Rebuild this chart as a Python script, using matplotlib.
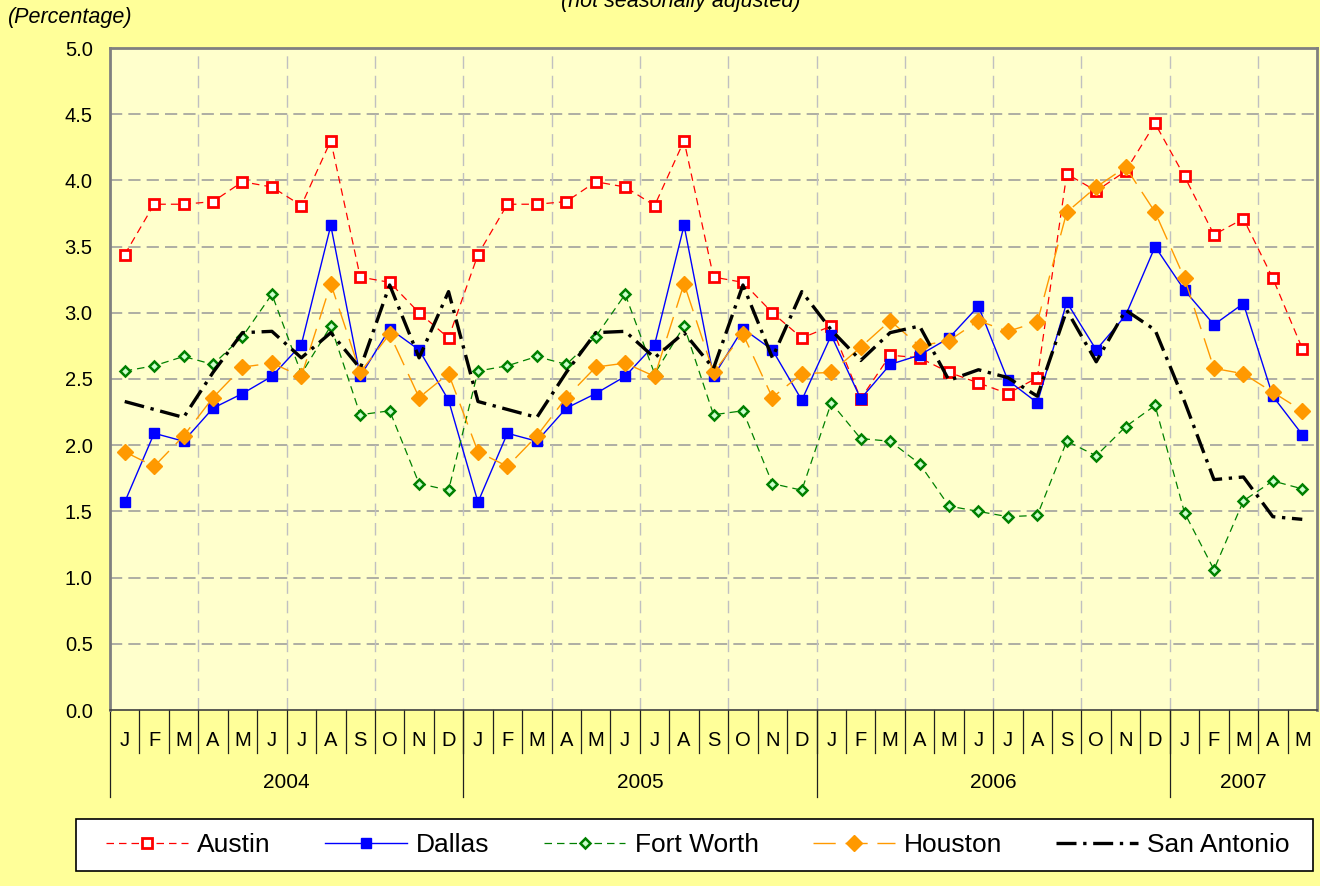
import numpy as np
import matplotlib
matplotlib.use("Agg")
import matplotlib.pyplot as plt
import matplotlib.transforms as mtransforms
from matplotlib.patches import Rectangle

plt.rcParams['font.family'] = ['Liberation Sans', 'DejaVu Sans']

# Data (monthly, Jan 2004 - May 2007), percentage
month_labels = ['J', 'F', 'M', 'A', 'M', 'J', 'J', 'A', 'S', 'O', 'N', 'D'] * 3 + ['J', 'F', 'M', 'A', 'M']
year_labels = ['2004', '2005', '2006', '2007']
months_per_year = [12, 12, 12, 5]

austin = [3.44, 3.82, 3.82, 3.84, 3.99, 3.95, 3.81, 4.30, 3.27, 3.23, 3.00, 2.81,
          3.44, 3.82, 3.82, 3.84, 3.99, 3.95, 3.81, 4.30, 3.27, 3.23, 3.00, 2.81,
          2.90, 2.35, 2.68, 2.66, 2.55, 2.47, 2.39, 2.51, 4.05, 3.92, 4.07, 4.43,
          4.03, 3.59, 3.71, 3.26, 2.73]
dallas = [1.57, 2.09, 2.03, 2.28, 2.39, 2.52, 2.76, 3.66, 2.52, 2.88, 2.72, 2.34,
          1.57, 2.09, 2.03, 2.28, 2.39, 2.52, 2.76, 3.66, 2.52, 2.88, 2.72, 2.34,
          2.83, 2.35, 2.61, 2.68, 2.81, 3.05, 2.49, 2.32, 3.08, 2.72, 2.98, 3.50,
          3.17, 2.91, 3.07, 2.37, 2.08]
fort_worth = [2.56, 2.60, 2.67, 2.61, 2.82, 3.14, 2.54, 2.90, 2.23, 2.26, 1.71, 1.66,
              2.56, 2.60, 2.67, 2.61, 2.82, 3.14, 2.54, 2.90, 2.23, 2.26, 1.71, 1.66,
              2.32, 2.05, 2.03, 1.86, 1.54, 1.50, 1.46, 1.47, 2.03, 1.92, 2.14, 2.30,
              1.49, 1.06, 1.58, 1.73, 1.67]
houston = [1.95, 1.84, 2.07, 2.36, 2.59, 2.62, 2.52, 3.22, 2.55, 2.84, 2.36, 2.54,
           1.95, 1.84, 2.07, 2.36, 2.59, 2.62, 2.52, 3.22, 2.55, 2.84, 2.36, 2.54,
           2.55, 2.74, 2.94, 2.75, 2.79, 2.94, 2.86, 2.93, 3.76, 3.95, 4.10, 3.76,
           3.26, 2.58, 2.54, 2.40, 2.26]
san_antonio = [2.33, 2.27, 2.21, 2.55, 2.85, 2.86, 2.66, 2.85, 2.58, 3.21, 2.66, 3.16,
               2.33, 2.27, 2.21, 2.55, 2.85, 2.86, 2.66, 2.85, 2.58, 3.21, 2.66, 3.16,
               2.87, 2.64, 2.85, 2.90, 2.49, 2.57, 2.51, 2.37, 3.02, 2.63, 3.02, 2.87,
               2.33, 1.74, 1.76, 1.46, 1.44]

x = np.arange(len(month_labels))

fig = plt.figure(figsize=(13.2, 8.86), dpi=100)
fig.patch.set_facecolor('#FFFF99')
ax = fig.add_axes([110/1320, 1 - 710/886, (1317 - 110)/1320, (710 - 48)/886])
ax.set_facecolor('#FFFFCC')

# series
ax.plot(x, austin, color='#FF0000', lw=0.9, ls=(0, (6, 4)), marker='s', ms=6.5,
        mfc='white', mec='#FF0000', mew=2.0, label='Austin')
ax.plot(x, dallas, color='#0000FF', lw=1.0, marker='s', ms=6.5,
        mfc='#0000FF', mec='#0000FF', label='Dallas')
ax.plot(x, fort_worth, color='#008000', lw=0.9, ls=(0, (6, 4)), marker='D', ms=5,
        mfc='#CCFFCC', mec='#008000', mew=1.8, label='Fort Worth')
ax.plot(x, houston, color='#FF9900', lw=1.0, ls=(0, (16, 7)), marker='D', ms=8,
        mfc='#FF9900', mec='#FF9900', label='Houston')
ax.plot(x, san_antonio, color='black', lw=2.4, ls=(0, (6, 2, 1, 2)), label='San Antonio')

# axes
ax.set_xlim(-0.5, len(month_labels) - 0.5)
ax.set_ylim(0, 5)
ax.set_yticks(np.arange(0, 5.01, 0.5))
ax.set_yticklabels([f'{v:.1f}' for v in np.arange(0, 5.01, 0.5)], fontsize=14.5)
ax.tick_params(axis='y', length=0, pad=12.5)
ax.set_xticks([])
ax.grid(False)
for yv in np.arange(0.5, 5.01, 0.5):
    ax.axhline(yv, color='#999999', lw=1.1, ls=(0, (8, 4)), zorder=0.5)
for xv in np.arange(2.5, len(month_labels) - 0.5, 3):
    ax.axvline(xv, color='#C0C0C0', lw=1.0, ls=(0, (9, 5)), zorder=0.5)
for side in ['left', 'right', 'top']:
    ax.spines[side].set_color('#808080')
    ax.spines[side].set_linewidth(2)
ax.spines['bottom'].set_color('#404040')
ax.spines['bottom'].set_linewidth(1.2)

# category axis table (months / years)
trans = mtransforms.blended_transform_factory(ax.transData, ax.transAxes)
y_month_bot = -(753 - 710) / 662
y_year_bot = -(797 - 710) / 662
y_month_txt = -(740 - 710) / 662
y_year_txt = -(782 - 710) / 662

for i, lab in enumerate(month_labels):
    ax.text(i, y_month_txt, lab, transform=trans, ha='center', va='center', fontsize=14.5)
    if i > 0:
        ax.plot([i - 0.5, i - 0.5], [0, y_month_bot], transform=trans, color='#202020',
                lw=0.9, clip_on=False)

start = 0
for yl, n in zip(year_labels, months_per_year):
    ax.plot([start - 0.5, start - 0.5], [0, y_year_bot], transform=trans, color='#202020',
            lw=0.9, clip_on=False)
    ax.text(start + (n - 1) / 2, y_year_txt, yl, transform=trans, ha='center', va='center',
            fontsize=15)
    start += n

# titles
fig.text(8/1320, 1 - 18/886, '(Percentage)', fontsize=15.5, style='italic', ha='left', va='center')
fig.text(681/1320, 1 - 7/886, '(not seasonally adjusted)', fontsize=15.5, style='italic',
         ha='center', va='baseline')

# legend box drawn separately so padding matches
fig.patches.append(Rectangle((76/1320, 1 - 871/886), (1313 - 76)/1320, 52/886,
                             transform=fig.transFigure, facecolor='white',
                             edgecolor='black', lw=1.2, zorder=1))
handles, labels = ax.get_legend_handles_labels()
leg = fig.legend(handles, labels, loc='center', bbox_to_anchor=(698/1320, 1 - 845/886),
                 ncol=5, fontsize=19, frameon=False, handlelength=3.1, handletextpad=0.35,
                 columnspacing=2.05)
leg.set_zorder(2)

fig.savefig('out.png', dpi=100, facecolor=fig.get_facecolor())
